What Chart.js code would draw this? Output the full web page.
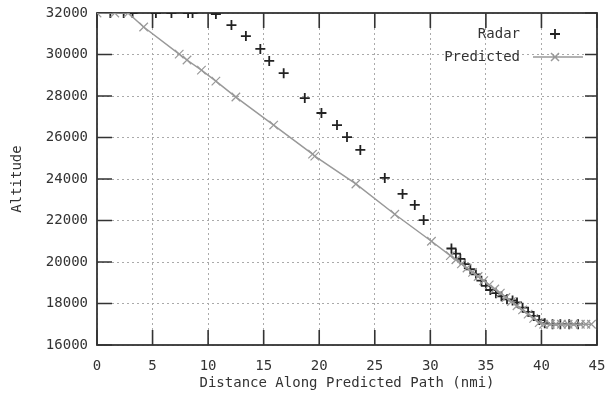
<!DOCTYPE html>
<html>
<head>
<meta charset="utf-8">
<script src="https://cdn.jsdelivr.net/npm/chart.js@4"></script>
<style>
  html, body { margin: 0; padding: 0; background: #fff; }
  #wrap { width: 611px; height: 403px; }
</style>
</head>
<body>
<div id="wrap"><canvas id="altChart" width="611" height="403"></canvas></div>
<script>
// values (nmi, feet)
const radarDist = [1.2, 2.4, 3.2, 5.3, 6.7, 8.2, 8.6, 10.7, 12.1, 13.4, 14.7, 15.5, 16.8, 18.7, 20.2, 21.6, 22.5, 23.7, 25.9, 27.5, 28.6, 29.4,
    31.9, 32.3, 32.7, 33.1, 33.6, 34.1, 34.6, 35.0, 35.4, 35.9, 36.4, 36.9, 37.4, 37.8, 38.3, 38.8, 39.3, 39.8, 40.3, 41.0, 41.7, 42.5, 43.3];
const radarAlt = [32000, 32000, 32000, 32000, 32000, 32000, 32000, 31950, 31420, 30890, 30270, 29690, 29100, 27900, 27180, 26600, 26020, 25400, 24050, 23280, 22750, 22020,
    20650, 20400, 20150, 19900, 19650, 19400, 19100, 18850, 18650, 18500, 18350, 18200, 18150, 18050, 17800, 17600, 17400, 17200, 17050, 17000, 17000, 17000, 17000];
const predDist = [0, 1.6, 2.8, 4.2, 7.4, 8.1, 9.4, 10.7, 12.5, 15.9, 19.4, 19.6, 23.3, 26.8, 30.1,
    31.8, 32.3, 32.8, 33.3, 33.8, 34.3, 34.8, 35.3, 35.8, 36.3, 36.8, 37.3, 37.8, 38.3, 38.8, 39.3, 39.8,
    40.2, 40.8, 41.3, 41.8, 42.4, 42.9, 43.5, 44.0, 44.5];
const predAlt = [32000, 32000, 32000, 31325, 30020, 29735, 29250, 28720, 27950, 26600, 25200, 25100, 23760, 22300, 21000,
    20310, 20110, 19910, 19710, 19500, 19300, 19100, 18900, 18700, 18500, 18290, 18090, 17890, 17690, 17490, 17280, 17080,
    17000, 17000, 17000, 17000, 17000, 17000, 17000, 17000, 17000];
const xTicks = [0, 5, 10, 15, 20, 25, 30, 35, 40, 45];
const yTicks = [16000, 18000, 20000, 22000, 24000, 26000, 28000, 30000, 32000];

const FONT = 'DejaVu Sans Mono';
const TXT = '#333';

// gnuplot-like frame, inward ticks and key
const gnuFrame = {
    id: 'gnuFrame',
    beforeDatasetsDraw(chart) {
        const { ctx, chartArea: a, scales } = chart;
        ctx.save();
        ctx.strokeStyle = '#333';
        ctx.lineWidth = 1.6;
        ctx.beginPath();
        xTicks.forEach(v => {
            const px = scales.x.getPixelForValue(v);
            ctx.moveTo(px, a.bottom); ctx.lineTo(px, a.bottom - 15);
            ctx.moveTo(px, a.top); ctx.lineTo(px, a.top + 15);
        });
        yTicks.forEach(v => {
            const py = scales.y.getPixelForValue(v);
            ctx.moveTo(a.left, py); ctx.lineTo(a.left + 15, py);
            ctx.moveTo(a.right, py); ctx.lineTo(a.right - 12, py);
        });
        ctx.stroke();
        ctx.lineWidth = 1.8;
        ctx.strokeRect(a.left, a.top, a.right - a.left, a.bottom - a.top);
        ctx.restore();
    },
    afterDraw(chart) {
        const { ctx, chartArea: a } = chart;
        const tx = a.right - 77, sx = a.right - 42;
        ctx.save();
        ctx.font = '14px "' + FONT + '"';
        ctx.fillStyle = TXT;
        ctx.textAlign = 'right';
        ctx.textBaseline = 'middle';
        ctx.fillText('Radar', tx, 34);
        ctx.fillText('Predicted', tx, 57);
        // radar sample
        ctx.strokeStyle = '#222';
        ctx.lineWidth = 1.8;
        ctx.beginPath();
        ctx.moveTo(sx - 5, 34); ctx.lineTo(sx + 5, 34);
        ctx.moveTo(sx, 29); ctx.lineTo(sx, 39);
        ctx.stroke();
        // predicted sample
        ctx.strokeStyle = '#999';
        ctx.lineWidth = 1.5;
        ctx.beginPath();
        ctx.moveTo(sx - 22, 57); ctx.lineTo(sx + 28, 57);
        ctx.moveTo(sx - 4, 53); ctx.lineTo(sx + 4, 61);
        ctx.moveTo(sx - 4, 61); ctx.lineTo(sx + 4, 53);
        ctx.stroke();
        ctx.restore();
    }
};

const ctx = document.getElementById('altChart').getContext('2d');
const altChart = new Chart(ctx, {
    type: 'scatter',
    data: {
        datasets: [{
            label: 'Radar',
            data: radarDist.map((d, i) => ({ x: d, y: radarAlt[i] })),
            showLine: false,
            pointStyle: 'cross',
            pointRadius: 5,
            pointBorderWidth: 1.8,
            borderColor: '#222',
            backgroundColor: '#222',
            clip: 0,
            order: 2
        }, {
            label: 'Predicted',
            data: predDist.map((d, i) => ({ x: d, y: predAlt[i] })),
            showLine: true,
            borderColor: '#999',
            borderWidth: 1.5,
            pointStyle: 'crossRot',
            pointRadius: 6,
            pointBorderWidth: 1.2,
            pointBorderColor: '#999',
            backgroundColor: '#999',
            tension: 0,
            clip: 0,
            order: 1
        }]
    },
    options: {
        responsive: false,
        animation: false,
        events: [],
        layout: { padding: { left: 0, top: 13, right: 14, bottom: 0 } },
        plugins: {
            legend: { display: false },
            tooltip: { enabled: false }
        },
        scales: {
            x: {
                type: 'linear',
                min: 0,
                max: 45,
                afterBuildTicks: s => { s.ticks = xTicks.map(v => ({ value: v })); },
                afterFit: s => { s.height = 58; s.paddingLeft = 0; s.paddingRight = 0; },
                grid: { color: '#aaa', lineWidth: 1, drawTicks: false },
                border: { display: false, dash: [2, 3] },
                ticks: { padding: 13, color: TXT, font: { family: FONT, size: 14 }, maxRotation: 0 },
                title: {
                    display: true,
                    text: 'Distance Along Predicted Path (nmi)',
                    color: TXT,
                    font: { family: FONT, size: 14 },
                    padding: { top: 0, bottom: 11 }
                }
            },
            y: {
                type: 'linear',
                min: 16000,
                max: 32000,
                afterBuildTicks: s => { s.ticks = yTicks.map(v => ({ value: v })); },
                afterFit: s => { s.width = 97; s.paddingTop = 0; s.paddingBottom = 0; },
                grid: { color: '#aaa', lineWidth: 1, drawTicks: false },
                border: { display: false, dash: [2, 3] },
                ticks: { padding: 9, color: TXT, font: { family: FONT, size: 14 }, callback: v => String(v) },
                title: {
                    display: true,
                    text: 'Altitude',
                    color: TXT,
                    font: { family: FONT, size: 14 },
                    padding: { top: 9, bottom: 0 }
                }
            }
        }
    },
    plugins: [gnuFrame]
});
</script>
</body>
</html>
